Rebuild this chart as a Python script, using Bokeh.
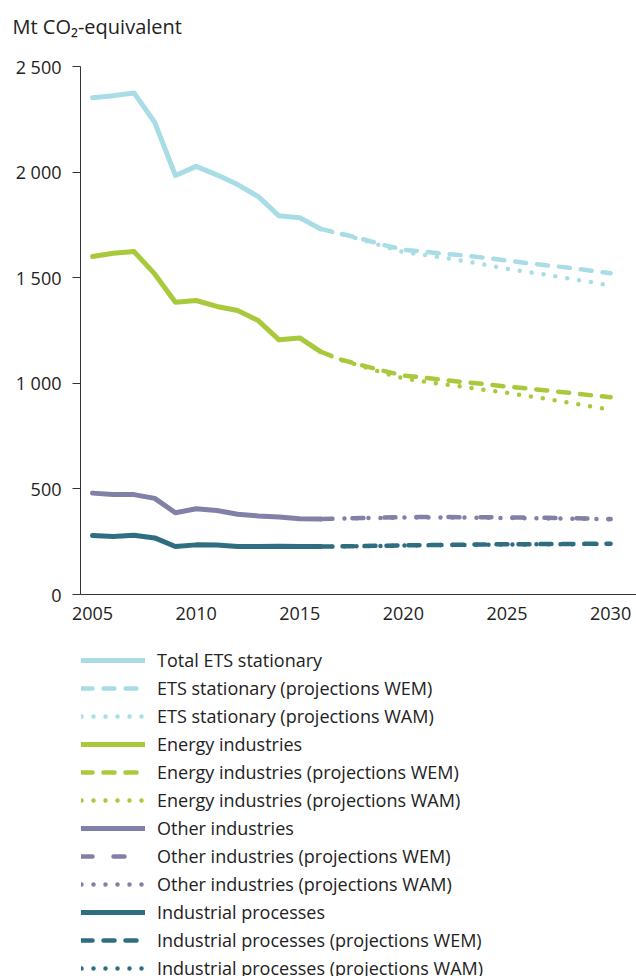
from bokeh.plotting import figure
from bokeh.models import Range1d, FixedTicker, Legend, LegendItem
from bokeh.layouts import column
from bokeh.embed import file_html
from bokeh.resources import INLINE

# ---- data ----
hist_years = [2005, 2006, 2007, 2008, 2009, 2010, 2011, 2012, 2013, 2014, 2015, 2016]
proj_years = [2016, 2017, 2018, 2019, 2020, 2021, 2022, 2023, 2024, 2025, 2026, 2027, 2028, 2029, 2030]

ets_hist = [2352, 2362, 2375, 2236, 1984, 2027, 1987, 1941, 1884, 1793, 1784, 1731]
ets_wem = [1731, 1708, 1684, 1656, 1632, 1624, 1613, 1605, 1594, 1581, 1569, 1558, 1547, 1534, 1521]
ets_wam = [1731, 1706, 1680, 1650, 1621, 1608, 1594, 1578, 1561, 1542, 1528, 1512, 1496, 1480, 1463]

en_hist = [1600, 1616, 1624, 1518, 1384, 1392, 1364, 1345, 1297, 1206, 1215, 1150]
en_wem = [1150, 1112, 1085, 1060, 1037, 1027, 1015, 1005, 996, 984, 975, 965, 955, 944, 934]
en_wam = [1150, 1110, 1080, 1050, 1023, 1008, 995, 982, 968, 955, 940, 925, 908, 892, 874]

oth_hist = [480, 474, 473, 455, 387, 406, 398, 380, 372, 367, 359, 357]
oth_wem = [357, 360, 362, 364, 366, 367, 367, 366, 366, 365, 364, 363, 362, 360, 357]
oth_wam = [357, 359, 361, 363, 364, 365, 365, 364, 363, 362, 361, 360, 359, 358, 356]

ind_hist = [279, 275, 281, 268, 227, 235, 234, 227, 227, 229, 227, 227]
ind_wem = [227, 228, 229, 231, 233, 234, 235, 236, 237, 238, 238, 239, 239, 240, 240]
ind_wam = [227, 228, 229, 230, 232, 233, 234, 235, 236, 237, 237, 238, 238, 239, 239]

y_ticks = [0, 500, 1000, 1500, 2000, 2500]
y_tick_labels = ["0", "500", "1 000", "1 500", "2 000", "2 500"]
x_ticks = [2005, 2010, 2015, 2020, 2025, 2030]

labels = ["Total ETS stationary", "ETS stationary (projections WEM)", "ETS stationary (projections WAM)",
          "Energy industries", "Energy industries (projections WEM)", "Energy industries (projections WAM)",
          "Other industries", "Other industries (projections WEM)", "Other industries (projections WAM)",
          "Industrial processes", "Industrial processes (projections WEM)", "Industrial processes (projections WAM)"]

title_text = "Mt CO\u2082-equivalent"

c_ets = "#a8dde6"
c_en = "#a9c93c"
c_oth = "#8280a6"
c_ind = "#2f6d80"

FONT = "Open Sans"
TXT = "#222222"
FS = "18px"

# ---- title strip ----
tf = figure(width=636, height=54, output_backend="svg", toolbar_location=None,
            x_range=Range1d(0, 1), y_range=Range1d(0, 1),
            x_axis_location=None, y_axis_location=None,
            min_border_left=80, min_border_right=0, min_border_top=0, min_border_bottom=0)
tf.outline_line_color = None
tf.grid.visible = False
tf.title.text = title_text
tf.title.text_font = FONT
tf.title.text_font_size = "20px"
tf.title.text_font_style = "normal"
tf.title.text_color = TXT
tf.title.align = "left"
tf.title.vertical_align = "top"
tf.title.offset = -68
tf.title.standoff = 26

# ---- main chart ----
p = figure(width=636, height=576, output_backend="svg", toolbar_location=None,
           x_range=Range1d(2004.42, 2031.25), y_range=Range1d(0, 2500),
           min_border_left=80, min_border_right=0, min_border_top=12,
           min_border_bottom=36)

p.outline_line_color = None
p.grid.visible = False

p.yaxis.ticker = FixedTicker(ticks=y_ticks)
p.yaxis.major_label_overrides = {t: l for t, l in zip(y_ticks, y_tick_labels)}
p.yaxis.minor_tick_line_color = None
p.yaxis.major_tick_out = 8
p.yaxis.major_tick_in = 0
p.yaxis.axis_line_color = "#333333"
p.yaxis.major_tick_line_color = "#333333"
p.yaxis.major_label_text_font = FONT
p.yaxis.major_label_text_font_size = FS
p.yaxis.major_label_text_color = TXT
p.yaxis.major_label_standoff = 11

p.xaxis.ticker = FixedTicker(ticks=x_ticks)
p.xaxis.minor_tick_line_color = None
p.xaxis.major_tick_line_color = None
p.xaxis.axis_line_color = "#333333"
p.xaxis.major_label_text_font = FONT
p.xaxis.major_label_text_font_size = FS
p.xaxis.major_label_text_color = TXT
p.xaxis.major_label_standoff = 6

styles = []
for c in [c_ets, c_en, c_oth, c_ind]:
    wem_dash = "11 21" if c == c_oth else "11 11"
    styles.append(dict(line_color=c, line_width=5, line_cap="round", line_join="round"))
    styles.append(dict(line_color=c, line_width=4.5, line_cap="round", line_dash=wem_dash))
    styles.append(dict(line_color=c, line_width=4.5, line_cap="round", line_dash="0 12"))

series = [(hist_years, ets_hist), (proj_years, ets_wem), (proj_years, ets_wam),
          (hist_years, en_hist), (proj_years, en_wem), (proj_years, en_wam),
          (hist_years, oth_hist), (proj_years, oth_wem), (proj_years, oth_wam),
          (hist_years, ind_hist), (proj_years, ind_wem), (proj_years, ind_wam)]

for (xs, ys), st in zip(series, styles):
    p.line(xs, ys, **st)

# ---- legend figure (series drawn out of view; only the legend shows) ----
lg = figure(width=636, height=346, output_backend="svg", toolbar_location=None,
            x_range=Range1d(2004.42, 2031.25), y_range=Range1d(5000, 6000),
            x_axis_location=None, y_axis_location=None,
            min_border_left=0, min_border_right=0, min_border_top=0, min_border_bottom=0)
lg.outline_line_color = None
lg.grid.visible = False

items = []
for lab, (xs, ys), st in zip(labels, series, styles):
    r = lg.line(xs, ys, **st)
    items.append(LegendItem(label=lab, renderers=[r]))

legend = Legend(items=items, location=(1, -4), orientation="vertical",
                glyph_width=64, glyph_height=20, label_height=20,
                spacing=4, padding=0, margin=0, label_standoff=12,
                label_text_font=FONT, label_text_font_size=FS,
                label_text_color=TXT, border_line_color=None,
                background_fill_alpha=0)
lg.add_layout(legend, "center")

layout = column(tf, p, lg, spacing=0)
open("out.html", "w").write(file_html(layout, INLINE))
